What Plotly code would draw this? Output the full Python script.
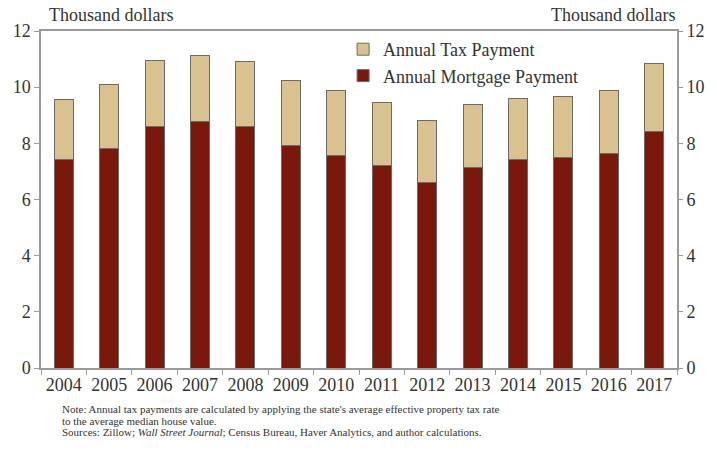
import plotly.graph_objects as go

# Annual housing payments, thousand dollars
years = ["2004", "2005", "2006", "2007", "2008", "2009", "2010",
         "2011", "2012", "2013", "2014", "2015", "2016", "2017"]
mortgage = [7.43, 7.82, 8.59, 8.77, 8.59, 7.92, 7.56,
            7.20, 6.60, 7.15, 7.43, 7.49, 7.65, 8.42]
tax = [2.12, 2.28, 2.35, 2.34, 2.31, 2.30, 2.33,
       2.24, 2.23, 2.23, 2.17, 2.19, 2.22, 2.42]
y_ticks = [0, 2, 4, 6, 8, 10, 12]

SERIF = "Liberation Serif"
TAN = "#D9C190"
MAROON = "#7A190B"
EDGE = "#6E6A66"
AXIS = "#9A9A9A"
TEXT = "#333333"

fig = go.Figure()
fig.add_trace(go.Bar(
    x=years, y=mortgage, name="Annual Mortgage Payment",
    marker=dict(color=MAROON, line=dict(color=EDGE, width=1)),
    width=0.42, legendgroup="m", legendrank=2,
))
fig.add_trace(go.Bar(
    x=years, y=tax, name="Annual Tax Payment",
    marker=dict(color=TAN, line=dict(color=EDGE, width=1)),
    width=0.42, legendgroup="t", legendrank=1,
))
# invisible trace so the right-hand axis is drawn
fig.add_trace(go.Scatter(x=[years[0]], y=[0], yaxis="y2", mode="lines",
                         line=dict(width=0), showlegend=False,
                         hoverinfo="skip"))

axis_font = dict(family=SERIF, size=18, color=TEXT)

fig.update_layout(
    width=717, height=454,
    margin=dict(l=41, r=36, t=31, b=86),
    paper_bgcolor="white", plot_bgcolor="white",
    barmode="stack",
    font=dict(family=SERIF, color=TEXT),
    xaxis=dict(
        type="category", range=[-0.5, len(years) - 0.5],
        showline=True, linecolor=AXIS, linewidth=1.5,
        mirror=True, ticks="outside", ticklen=5, tickcolor=AXIS,
        tickson="boundaries", showgrid=False, tickfont=axis_font,
    ),
    yaxis=dict(
        range=[0, 12], tickvals=y_ticks, showline=True, linecolor=AXIS,
        linewidth=1.5, mirror=True, ticks="outside", ticklen=5,
        tickcolor=AXIS, showgrid=False, zeroline=False, tickfont=axis_font,
    ),
    yaxis2=dict(
        range=[0, 12], tickvals=y_ticks, overlaying="y", side="right",
        showline=False, ticks="outside", ticklen=5, tickcolor=AXIS,
        showgrid=False, zeroline=False, tickfont=axis_font,
    ),
    legend=dict(
        x=0.475, y=1.0, xanchor="left", yanchor="top",
        traceorder="grouped", tracegroupgap=0,
        font=dict(family=SERIF, size=18, color=TEXT),
        bgcolor="rgba(0,0,0,0)",
    ),
    showlegend=True,
)

fig.add_annotation(text="Thousand dollars", xref="paper", yref="paper",
                   x=0.01, y=1.0, yshift=4, xanchor="left", yanchor="bottom",
                   showarrow=False, font=dict(family=SERIF, size=18, color=TEXT))
fig.add_annotation(text="Thousand dollars", xref="paper", yref="paper",
                   x=1.0, y=1.0, yshift=4, xanchor="right", yanchor="bottom",
                   showarrow=False, font=dict(family=SERIF, size=18, color=TEXT))

note_lines = [
    "Note: Annual tax payments are calculated by applying the state's average "
    "effective property tax rate",
    "to the average median house value.",
    "Sources: Zillow; <i>Wall Street Journal</i>; Census Bureau, Haver Analytics, "
    "and author calculations.",
]
for i, line in enumerate(note_lines):
    fig.add_annotation(text=line, xref="paper", yref="paper", x=0.03, y=0,
                       yshift=-41 - 11.5 * i, xanchor="left", yanchor="middle",
                       align="left", showarrow=False,
                       font=dict(family=SERIF, size=11, color=TEXT))

fig.write_html("out.html")
